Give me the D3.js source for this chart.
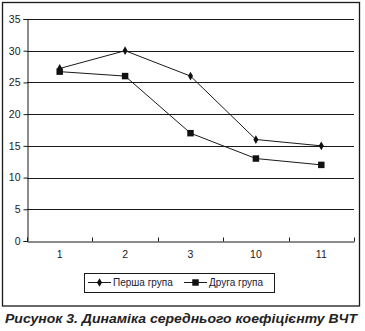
<!DOCTYPE html>
<html>
<head>
<meta charset="utf-8">
<script src="https://cdn.jsdelivr.net/npm/d3@7"></script>
<style>
  html, body { margin: 0; padding: 0; background: #fff; }
  svg { display: block; }
</style>
</head>
<body>
<svg id="chart" width="365" height="331"></svg>
<script>
// Measurement points (x categories) and the two groups' mean coefficient
const categories = ["1", "2", "3", "10", "11"];
const group1 = [27.2, 30, 26, 16, 15];   // Перша група
const group2 = [26.7, 26, 17, 13, 12];   // Друга група
const yTicks = [0, 5, 10, 15, 20, 25, 30, 35];
const seriesNames = ["Перша група", "Друга група"];
const caption = "Рисунок 3. Динаміка середнього коефіцієнту ВЧТ";

const svg = d3.select("#chart");
const font = "'Liberation Sans', Arial, sans-serif";
const ink = "#1a1a1a";

const plot = { left: 27, right: 354, top: 19, bottom: 241 };

const x = d3.scaleBand().domain(categories).range([plot.left, plot.right]).padding(0);
const y = d3.scaleLinear().domain([0, 35]).range([plot.bottom, plot.top]);

// Outer frame
svg.append("rect")
  .attr("x", 2.5).attr("y", 2.5).attr("width", 357).attr("height", 303.5)
  .attr("fill", "none").attr("stroke", ink).attr("stroke-width", 1.3);

// Horizontal gridlines
svg.append("g").selectAll("line").data(yTicks.filter(d => d > 0)).join("line")
  .attr("x1", plot.left).attr("x2", plot.right)
  .attr("y1", d => Math.round(y(d)) + 0.5).attr("y2", d => Math.round(y(d)) + 0.5)
  .attr("stroke", ink).attr("stroke-width", 1);

// Y axis
const yAxis = svg.append("g")
  .attr("transform", `translate(${plot.left + 0.5},0)`)
  .call(d3.axisLeft(y).tickValues(yTicks).tickSize(4).tickPadding(3));
yAxis.select(".domain").attr("stroke", ink);
yAxis.selectAll(".tick line").attr("stroke", ink);
yAxis.selectAll(".tick text").attr("font-family", font).attr("font-size", 10.5).attr("fill", ink);

// X axis
const xAxis = svg.append("g")
  .attr("transform", `translate(0,${Math.round(plot.bottom) + 0.5})`)
  .call(d3.axisBottom(x).tickSize(0).tickPadding(9));
xAxis.select(".domain").attr("stroke", ink);
xAxis.selectAll(".tick text").attr("font-family", font).attr("font-size", 10.5).attr("fill", ink);
// Category boundary ticks
const bounds = categories.map(c => x(c)).concat([plot.right]);
xAxis.append("g").selectAll("line").data(bounds).join("line")
  .attr("x1", d => Math.round(d) + 0.5).attr("x2", d => Math.round(d) + 0.5)
  .attr("y1", -4).attr("y2", 0)
  .attr("stroke", ink);

const cx = c => x(c) + x.bandwidth() / 2;
const line = d3.line().x((d, i) => cx(categories[i])).y(d => y(d));

const diamond = d3.symbol().type(d3.symbolDiamond).size(22);
const square = d3.symbol().type(d3.symbolSquare).size(42);

function drawSeries(values, sym) {
  svg.append("path").datum(values)
    .attr("d", line).attr("fill", "none").attr("stroke", ink).attr("stroke-width", 1);
  svg.append("g").selectAll("path").data(values).join("path")
    .attr("transform", (d, i) => `translate(${cx(categories[i])},${y(d)})`)
    .attr("d", sym).attr("fill", "#111");
}
drawSeries(group1, diamond);
drawSeries(group2, square);

// Legend
const lg = svg.append("g");
lg.append("rect")
  .attr("x", 84.5).attr("y", 273.5).attr("width", 190).attr("height", 19)
  .attr("fill", "#fff").attr("stroke", ink).attr("stroke-width", 1);
const legendItems = [
  { name: seriesNames[0], sym: diamond, x0: 88 },
  { name: seriesNames[1], sym: square, x0: 184 }
];
legendItems.forEach(it => {
  lg.append("line").attr("x1", it.x0).attr("x2", it.x0 + 23)
    .attr("y1", 282.5).attr("y2", 282.5).attr("stroke", ink);
  lg.append("path").attr("d", it.sym)
    .attr("transform", `translate(${it.x0 + 11.5},282.5)`).attr("fill", "#111");
  lg.append("text").attr("x", it.x0 + 25).attr("y", 286.3)
    .attr("font-family", font).attr("font-size", 10).attr("fill", "#1a1a33")
    .text(it.name);
});

// Caption
svg.append("text")
  .attr("x", 5).attr("y", 323)
  .attr("font-family", font).attr("font-size", 13)
  .attr("font-weight", "bold").attr("font-style", "italic")
  .attr("fill", "#222")
  .attr("textLength", 352).attr("lengthAdjust", "spacingAndGlyphs")
  .text(caption);
</script>
</body>
</html>
